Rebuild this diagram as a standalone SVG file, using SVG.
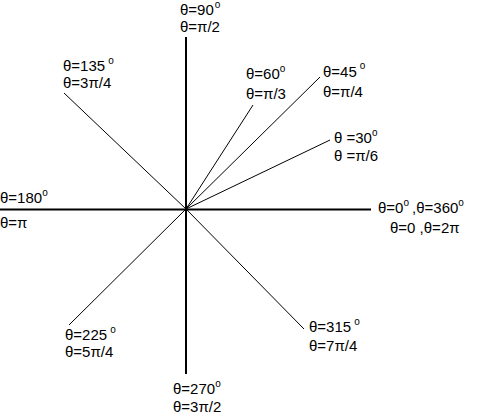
<svg xmlns="http://www.w3.org/2000/svg" width="481" height="417" viewBox="0 0 481 417">
<style>
text{font-family:"Liberation Sans",Arial,sans-serif;font-size:15px;fill:#000}
.d{font-size:10px}
.ax{stroke:#000;stroke-width:2;fill:none}
.ln{stroke:#000;stroke-width:1;fill:none}
</style>
<rect width="481" height="417" fill="#fff"/>
<g id="connectors">
<line class="ax" x1="0" y1="209.5" x2="371" y2="209.5"/>
<line class="ax" x1="186" y1="37" x2="186" y2="374"/>
<line class="ln" x1="64" y1="93" x2="186" y2="209"/>
<line class="ln" x1="186" y1="209" x2="69" y2="325"/>
<line class="ln" x1="186" y1="209" x2="304" y2="329"/>
<line class="ln" x1="186" y1="209" x2="320" y2="77"/>
<line class="ln" x1="186" y1="209" x2="253" y2="105"/>
<line class="ln" x1="186" y1="209" x2="330" y2="140"/>
</g>
<g id="n90"><text x="180" y="15">θ=90<tspan class="d" dx="1" dy="-7">o</tspan></text><text x="180" y="32">θ=π/2</text></g>
<g id="n135"><text x="63" y="71">θ=135<tspan class="d" dx="3" dy="-7">o</tspan></text><text x="63" y="88">θ=3π/4</text></g>
<g id="n60"><text x="246" y="79">θ=60<tspan class="d" dx="0" dy="-7">o</tspan></text><text x="246" y="99">θ=π/3</text></g>
<g id="n45"><text x="323" y="77">θ=45<tspan class="d" dx="3" dy="-8">o</tspan></text><text x="323" y="97">θ=π/4</text></g>
<g id="n30"><text x="334" y="143">θ =30<tspan class="d" dx="0" dy="-7">o</tspan></text><text x="334" y="161">θ =π/6</text></g>
<g id="n180"><text x="0" y="203">θ=180<tspan class="d" dx="0" dy="-7">o</tspan></text><text x="0" y="228">θ=π</text></g>
<g id="n0"><text x="378" y="213">θ=0<tspan class="d" dx="0" dy="-7">o</tspan><tspan dx="3" dy="7">,θ=360</tspan><tspan class="d" dx="0" dy="-7">o</tspan></text><text x="390" y="233">θ=0 ,θ=2π</text></g>
<g id="n225"><text x="65" y="340">θ=225<tspan class="d" dx="3" dy="-7">o</tspan></text><text x="65" y="357">θ=5π/4</text></g>
<g id="n270"><text x="173" y="394">θ=270<tspan class="d" dx="0" dy="-7">o</tspan></text><text x="173" y="412">θ=3π/2</text></g>
<g id="n315"><text x="309" y="332">θ=315<tspan class="d" dx="3" dy="-7">o</tspan></text><text x="309" y="351">θ=7π/4</text></g>
</svg>
